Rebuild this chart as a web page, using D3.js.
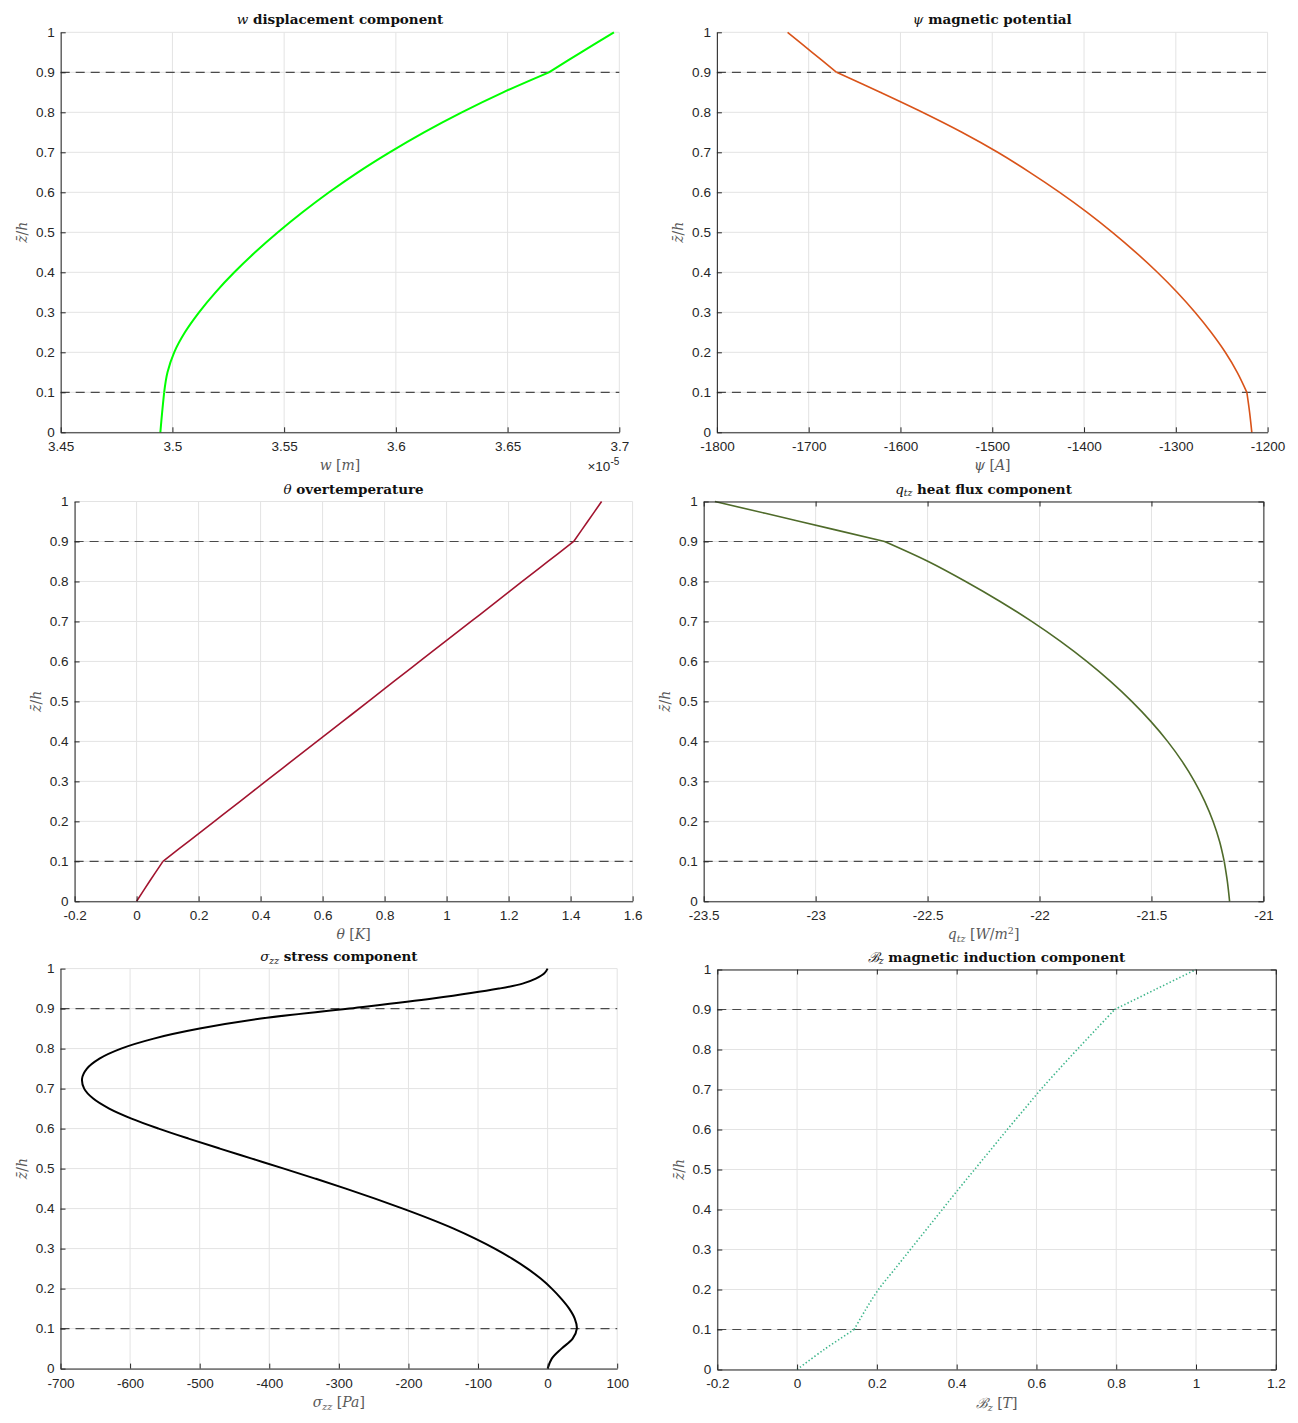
<!DOCTYPE html>
<html>
<head>
<meta charset="utf-8">
<script src="https://cdn.jsdelivr.net/npm/d3@7"></script>
<style>
  body { margin: 0; background: #fff; }
  svg text { font-family: "Liberation Sans", Arial, sans-serif; }
</style>
</head>
<body>
<svg id="fig" width="1298" height="1423"></svg>
<script>
// shared height grid (z/h) every 0.05
var zGrid = [0, 0.05, 0.1, 0.15, 0.2, 0.25, 0.3, 0.35, 0.4, 0.45, 0.5,
             0.55, 0.6, 0.65, 0.7, 0.75, 0.8, 0.85, 0.9, 0.95, 1];

// w displacement, in units of 1e-5 m
var wValues = [3.4946, 3.4954, 3.4963, 3.4978, 3.5008, 3.5056, 3.5119, 3.5193, 3.5277, 3.5370, 3.5472,
               3.5582, 3.5701, 3.5830, 3.5972, 3.6126, 3.6295, 3.6480, 3.6685, 3.6829, 3.6976];
// psi magnetic potential [A]
var psiValues = [-1217.2, -1219.6, -1222.6, -1233.1, -1246.1, -1261.6, -1279.1, -1298.6, -1320.1, -1343.6, -1369.1,
                 -1396.6, -1426.6, -1459.1, -1494.1, -1533.1, -1576.1, -1622.1, -1669.6, -1696.3, -1723];
// theta overtemperature [K]
var thetaValues = [0, 0.042, 0.085, 0.168, 0.251, 0.334, 0.416, 0.499, 0.582, 0.665, 0.748,
                   0.830, 0.913, 0.996, 1.079, 1.162, 1.244, 1.327, 1.410, 1.455, 1.500];
// q_tz heat flux [W/m^2]
var qValues = [-21.151, -21.161, -21.175, -21.196, -21.225, -21.262, -21.308, -21.363, -21.428, -21.503, -21.588,
               -21.683, -21.789, -21.906, -22.035, -22.176, -22.330, -22.497, -22.692, -23.070, -23.450];
// B_z magnetic induction [T]
var bValues = [0, 0.068, 0.143, 0.172, 0.204, 0.244, 0.284, 0.324, 0.364, 0.404, 0.445,
               0.486, 0.527, 0.569, 0.611, 0.656, 0.702, 0.749, 0.796, 0.898, 1.0];

// sigma_zz needs a finer grid (step 0.025, finer near the top)
var sigmaZ = [0, 0.025, 0.05, 0.075, 0.1, 0.125, 0.15, 0.175, 0.2, 0.225, 0.25, 0.275, 0.3, 0.325,
              0.35, 0.375, 0.4, 0.425, 0.45, 0.475, 0.5, 0.525, 0.55, 0.575, 0.6, 0.625, 0.65, 0.675,
              0.7, 0.725, 0.75, 0.775, 0.8, 0.825, 0.85, 0.875, 0.9, 0.925, 0.95, 0.9625, 0.975, 0.9875, 1];
var sigmaValues = [0, 6, 20, 36, 42, 39, 31, 19.5, 6, -10, -29, -51, -76, -104,
                   -135, -170, -208, -248, -290, -334, -379, -425, -471, -516, -559, -598, -630, -653,
                   -666, -669, -662, -644, -613, -566, -500, -412, -285, -165, -70, -36, -17, -5, 0];

// layer interfaces (dashed lines)
var interfaces = [0.1, 0.9];

// tick labels
var zTicks = [0, 0.1, 0.2, 0.3, 0.4, 0.5, 0.6, 0.7, 0.8, 0.9, 1];
var wTicks = [3.45, 3.5, 3.55, 3.6, 3.65, 3.7];
var psiTicks = [-1800, -1700, -1600, -1500, -1400, -1300, -1200];
var thetaTicks = [-0.2, 0, 0.2, 0.4, 0.6, 0.8, 1, 1.2, 1.4, 1.6];
var qTicks = [-23.5, -23, -22.5, -22, -21.5, -21];
var sigmaTicks = [-700, -600, -500, -400, -300, -200, -100, 0, 100];
var bTicks = [-0.2, 0, 0.2, 0.4, 0.6, 0.8, 1, 1.2];

// text pieces: m = math italic, b = bold, r = roman, s = subscript, p = superscript
var panels = [
  { z: zGrid, values: wValues, ticks: wTicks, color: "#00ff00", lw: 2, split: true, box: false,
    left: 60.7, right: 619.3, top: 32.3, bottom: 432.3, exponent: "-5",
    title: [["w", "m"], [" displacement component", "b"]],
    xlabel: [["w", "m"], [" [", "r"], ["m", "m"], ["]", "r"]] },
  { z: zGrid, values: psiValues, ticks: psiTicks, color: "#d95319", lw: 1.6, split: true, box: false,
    left: 716.9, right: 1267.6, top: 32.3, bottom: 432.3,
    title: [["ψ", "m"], [" magnetic potential", "b"]],
    xlabel: [["ψ", "m"], [" [", "r"], ["A", "m"], ["]", "r"]] },
  { z: zGrid, values: thetaValues, ticks: thetaTicks, color: "#a2142f", lw: 1.6, split: true, box: false,
    left: 74.6, right: 632.6, top: 501.5, bottom: 901.3,
    title: [["θ", "m"], [" overtemperature", "b"]],
    xlabel: [["θ", "m"], [" [", "r"], ["K", "m"], ["]", "r"]] },
  { z: zGrid, values: qValues, ticks: qTicks, color: "#4f6b2a", lw: 1.6, split: true, box: true,
    left: 703.7, right: 1263.4, top: 501.5, bottom: 901.3,
    title: [["q", "m"], ["tz", "s"], [" heat flux component", "b"]],
    xlabel: [["q", "m"], ["tz", "s"], [" [", "r"], ["W", "m"], ["/", "r"], ["m", "m"], ["2", "p"], ["]", "r"]] },
  { z: sigmaZ, values: sigmaValues, ticks: sigmaTicks, color: "#000000", lw: 2, split: false, box: false,
    left: 60.5, right: 617.2, top: 968.6, bottom: 1368.6,
    title: [["σ", "m"], ["zz", "s"], [" stress component", "b"]],
    xlabel: [["σ", "m"], ["zz", "s"], [" [", "r"], ["Pa", "m"], ["]", "r"]] },
  { z: zGrid, values: bValues, ticks: bTicks, color: "#3db58a", lw: 1.6, split: true, box: true, dotted: true,
    left: 717.3, right: 1275.8, top: 969.5, bottom: 1369.5,
    title: [["ℬ", "m"], ["z", "s"], [" magnetic induction component", "b"]],
    xlabel: [["ℬ", "m"], ["z", "s"], [" [", "r"], ["T", "m"], ["]", "r"]] }
];

var ylabelParts = [["z\u0304", "m"], ["/", "r"], ["h", "m"]];

var svg = d3.select("#fig");
var axisColor = "#262626";
var labelColor = "#595959";
var tickFont = 13.5;
var fmt = function (d) { return String(Math.round(d * 10000) / 10000); };

function richText(sel, parts, size) {
  var shift = 0;
  parts.forEach(function (p) {
    var t = sel.append("tspan").text(p[0]);
    var want = 0;
    if (p[1] === "m") t.attr("font-style", "italic").attr("font-weight", "normal");
    if (p[1] === "r") t.attr("font-weight", "normal");
    if (p[1] === "s") {
      t.attr("font-style", "italic").attr("font-weight", "normal").attr("font-size", size * 0.68);
      want = size * 0.22;
    }
    if (p[1] === "p") {
      t.attr("font-weight", "normal").attr("font-size", size * 0.68);
      want = -size * 0.4;
    }
    if (want !== shift) { t.attr("dy", want - shift); shift = want; }
  });
}

function styleAxis(g) {
  g.select(".domain").attr("stroke", axisColor).attr("stroke-width", 1);
  g.selectAll(".tick line").attr("stroke", axisColor).attr("stroke-width", 1);
  g.selectAll(".tick text").attr("fill", axisColor)
    .style("font-family", "'Liberation Sans', Arial, sans-serif").style("font-size", tickFont + "px");
}

panels.forEach(function (p) {
  var w = p.right - p.left, h = p.bottom - p.top;
  var x = d3.scaleLinear().domain([p.ticks[0], p.ticks[p.ticks.length - 1]]).range([0, w]);
  var y = d3.scaleLinear().domain([0, 1]).range([h, 0]);
  var g = svg.append("g").attr("transform", "translate(" + p.left + "," + p.top + ")");

  // grid
  g.append("g").selectAll("line").data(p.ticks).enter().append("line")
    .attr("x1", function (d) { return x(d); }).attr("x2", function (d) { return x(d); })
    .attr("y1", 0).attr("y2", h)
    .attr("stroke", "#e3e3e3").attr("stroke-width", 1);
  g.append("g").selectAll("line").data(zTicks).enter().append("line")
    .attr("y1", function (d) { return y(d); }).attr("y2", function (d) { return y(d); })
    .attr("x1", 0).attr("x2", w)
    .attr("stroke", "#e3e3e3").attr("stroke-width", 1);

  // layer interfaces
  g.append("g").selectAll("line").data(interfaces).enter().append("line")
    .attr("y1", function (d) { return y(d); }).attr("y2", function (d) { return y(d); })
    .attr("x1", 0).attr("x2", w)
    .attr("stroke", "#4a4a4a").attr("stroke-width", 1.2).attr("stroke-dasharray", "9,6");

  // curve, split at the interfaces so the kinks stay sharp
  var pts = p.z.map(function (zz, i) { return [p.values[i], zz]; });
  var segs = p.split ? [
    pts.filter(function (d) { return d[1] <= interfaces[0]; }),
    pts.filter(function (d) { return d[1] >= interfaces[0] && d[1] <= interfaces[1]; }),
    pts.filter(function (d) { return d[1] >= interfaces[1]; })
  ] : [pts];
  var line = d3.line()
    .x(function (d) { return x(d[0]); })
    .y(function (d) { return y(d[1]); })
    .curve(d3.curveCatmullRom.alpha(0.5));
  g.append("g").selectAll("path").data(segs).enter().append("path")
    .attr("d", line)
    .attr("fill", "none")
    .attr("stroke", p.color)
    .attr("stroke-width", p.lw)
    .attr("stroke-dasharray", p.dotted ? "1.4,2.2" : null);

  // axes
  g.append("g").attr("transform", "translate(0," + h + ")")
    .call(d3.axisBottom(x).tickValues(p.ticks).tickSizeInner(-5).tickSizeOuter(0)
      .tickPadding(9.4).tickFormat(fmt))
    .call(styleAxis);
  g.append("g")
    .call(d3.axisLeft(y).tickValues(zTicks).tickSizeInner(-5).tickSizeOuter(0)
      .tickPadding(6).tickFormat(fmt))
    .call(styleAxis);
  if (p.box) {
    g.append("g").attr("transform", "translate(" + w + ",0)")
      .call(d3.axisRight(y).tickValues(zTicks).tickSizeInner(-5).tickSizeOuter(0).tickFormat(""))
      .call(styleAxis);
    g.append("g")
      .call(d3.axisTop(x).tickValues(p.ticks).tickSizeInner(-5).tickSizeOuter(0).tickFormat(""))
      .call(styleAxis);
  }

  // title
  var title = g.append("text").attr("x", w / 2).attr("y", -8)
    .attr("text-anchor", "middle").attr("fill", "#111")
    .style("font-family", "'DejaVu Serif', serif").style("font-size", "13.5px")
    .attr("font-weight", "bold");
  richText(title, p.title, 13.5);

  // x label
  var xl = g.append("text").attr("x", w / 2).attr("y", h + 38)
    .attr("text-anchor", "middle").attr("fill", labelColor)
    .style("font-family", "'DejaVu Serif', serif").style("font-size", "14px");
  richText(xl, p.xlabel, 14);

  // y label
  var yl = g.append("text")
    .attr("transform", "translate(-38.5," + (h / 2) + ") rotate(-90)")
    .attr("text-anchor", "middle").attr("dy", "0.35em").attr("fill", labelColor)
    .style("font-family", "'DejaVu Serif', serif").style("font-size", "14px");
  richText(yl, ylabelParts, 14);

  // exponent of the x axis
  if (p.exponent) {
    var ex = g.append("text").attr("x", w).attr("y", h + 39)
      .attr("text-anchor", "end").attr("fill", axisColor)
      .style("font-size", tickFont + "px");
    ex.append("tspan").text("×10");
    ex.append("tspan").attr("dy", -6).style("font-size", "10px").text(p.exponent);
  }
});
</script>
</body>
</html>
